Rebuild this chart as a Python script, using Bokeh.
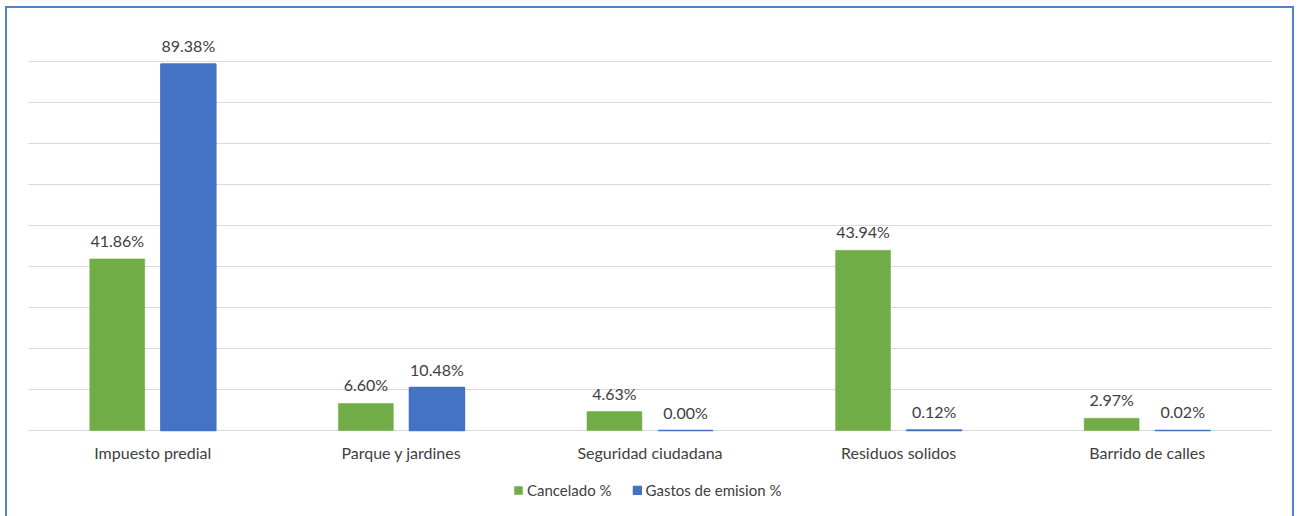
from bokeh.plotting import figure
from bokeh.models import ColumnDataSource, FactorRange, LabelSet, Legend, LegendItem, FixedTicker
from bokeh.transform import dodge
from bokeh.embed import file_html
from bokeh.resources import INLINE
from bokeh.core.properties import value

categories = ["Impuesto predial", "Parque y jardines", "Seguridad ciudadana", "Residuos solidos", "Barrido de calles"]
cancelado = [41.86, 6.60, 4.63, 43.94, 2.97]
gastos = [89.38, 10.48, 0.00, 0.12, 0.02]
series_names = ["Cancelado %", "Gastos de emision %"]
grid_ticks = [0, 10, 20, 30, 40, 50, 60, 70, 80, 90, 100]

GREEN = "#70AD47"
BLUE = "#4472C4"
FONT = "Lato"

src = ColumnDataSource(dict(
    cat=categories,
    c=cancelado,
    g=gastos,
    c_lab=["%.2f%%" % v for v in cancelado],
    g_lab=["%.2f%%" % v for v in gastos],
))

p = figure(x_range=FactorRange(*categories), y_range=(-21.95, 100),
           frame_width=1243, frame_height=500, output_backend="svg", toolbar_location=None,
           min_border_left=21, min_border_right=21, min_border_top=12, min_border_bottom=0)
p.styles = {"border": "2px solid #5283C9", "margin-left": "5px", "margin-top": "6px"}
p.outline_line_color = None
p.background_fill_color = "white"

off = 0.143
w = 0.221
r1 = p.vbar(x=dodge("cat", -off, range=p.x_range), top="c", bottom=0, width=w, source=src,
            fill_color=GREEN, line_color=GREEN, line_width=0.5)
r2 = p.vbar(x=dodge("cat", off, range=p.x_range), top="g", bottom=0, width=w, source=src,
            fill_color=BLUE, line_color=BLUE, line_width=1.5)

for col, lab, o in (("c", "c_lab", -off), ("g", "g_lab", off)):
    ls = LabelSet(x=dodge("cat", o, range=p.x_range), y=col, text=lab, source=src,
                  y_offset=9, text_align="center", text_baseline="bottom",
                  text_font=value(FONT), text_font_size="16px", text_color="#404040")
    p.add_layout(ls)

p.yaxis.visible = False
p.ygrid.ticker = FixedTicker(ticks=grid_ticks)
p.ygrid.grid_line_color = "#D9D9D9"
p.ygrid.grid_line_width = 1
p.xgrid.visible = False

p.xaxis.fixed_location = 0
p.xaxis.axis_line_color = None
p.xaxis.major_tick_line_color = None
p.xaxis.minor_tick_line_color = None
p.xaxis.major_tick_out = 0
p.xaxis.major_tick_in = 0
p.xaxis.major_label_text_font = FONT
p.xaxis.major_label_text_font_size = "16px"
p.xaxis.major_label_text_color = "#404040"
p.xaxis.major_label_standoff = 12

legend = Legend(items=[LegendItem(label=series_names[0], renderers=[r1]),
                       LegendItem(label=series_names[1], renderers=[r2])],
                orientation="horizontal", location=(485, 21),
                label_text_font=FONT, label_text_font_size="15px", label_text_color="#404040",
                glyph_width=10, glyph_height=10, spacing=20, label_standoff=4,
                border_line_color=None, background_fill_alpha=0, margin=0, padding=2)
p.add_layout(legend)

open("out.html", "w").write(file_html(p, INLINE))
